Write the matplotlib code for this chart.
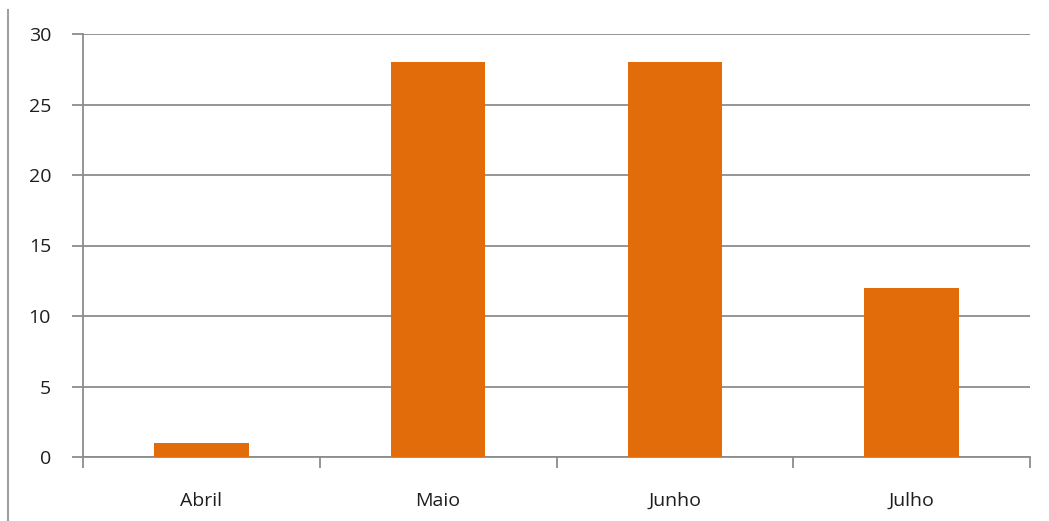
import matplotlib.pyplot as plt
from matplotlib.lines import Line2D

months = ["Abril", "Maio", "Junho", "Julho"]
values = [1, 28, 28, 12]
yticks = [0, 5, 10, 15, 20, 25, 30]

fig = plt.figure(figsize=(10.49, 5.21), dpi=100)
ax = fig.add_axes([83 / 1049, 1 - 457 / 521, (1030 - 83) / 1049, (457 - 34) / 521])

x = list(range(len(months)))
ax.bar(x, values, width=0.4, color="#E36C0A", zorder=3)

ax.set_xlim(-0.5, len(months) - 0.5)
ax.set_ylim(0, 30)
ax.set_yticks(yticks)
ax.set_yticklabels([str(v) for v in yticks])
ax.yaxis.grid(True, color="#8c8c8c", linewidth=1.3, zorder=0)

# category labels in the middle, ticks on the boundaries
ax.set_xticks(x)
ax.set_xticklabels(months)
ax.set_xticks([i - 0.5 for i in range(len(months) + 1)], minor=True)
ax.tick_params(axis="x", which="major", length=0, pad=25, labelsize=14, labelcolor="#1e1e1e")
ax.tick_params(axis="x", which="minor", length=8, width=1.3, color="#8c8c8c")
ax.tick_params(axis="y", length=8, width=1.3, color="#8c8c8c", pad=15, labelsize=14, labelcolor="#1e1e1e")

for side in ["top", "right"]:
    ax.spines[side].set_visible(False)
for side in ["left", "bottom"]:
    ax.spines[side].set_color("#8c8c8c")
    ax.spines[side].set_linewidth(1.3)

for lab in ax.get_xticklabels() + ax.get_yticklabels():
    lab.set_family(["Open Sans", "DejaVu Sans"])

# thin border line on the left of the image
fig.add_artist(Line2D([8 / 1049, 8 / 1049], [0, 1 - 10 / 521], transform=fig.transFigure,
                      color="#a0a0a0", linewidth=1.5))

fig.savefig("out.png", dpi=100)
